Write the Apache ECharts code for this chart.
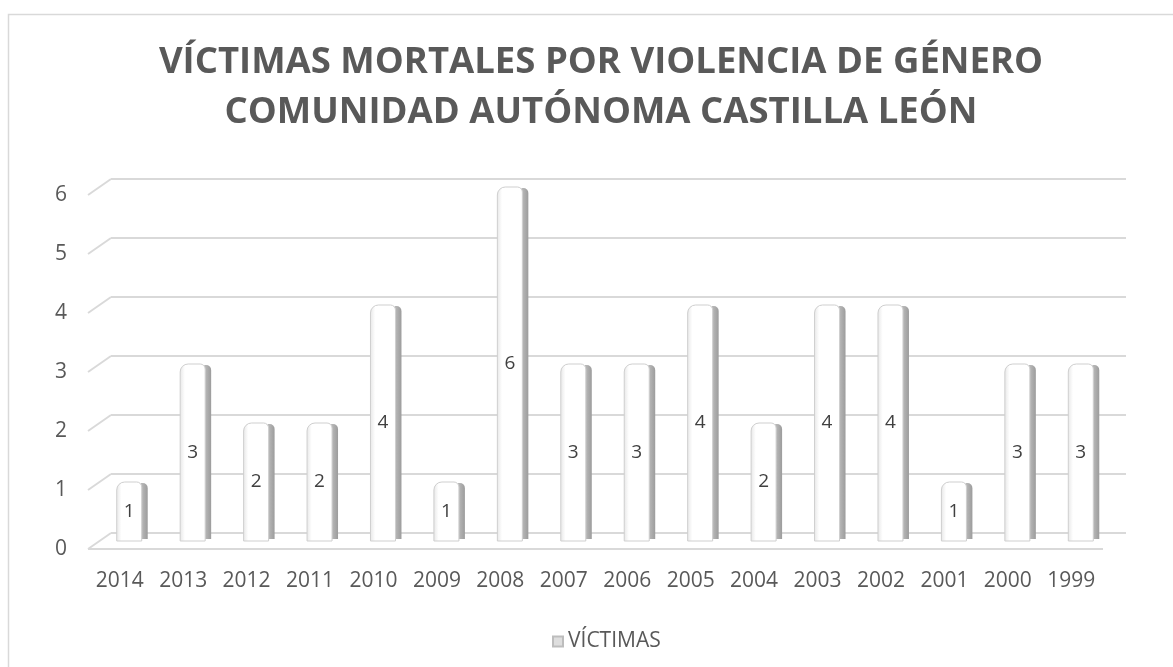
<!DOCTYPE html>
<html><head><meta charset="utf-8">
<script src="https://cdn.jsdelivr.net/npm/echarts@6/dist/echarts.min.js"></script>
<style>html,body{margin:0;padding:0;background:#fff}#c{width:1173px;height:667px}</style>
</head><body><div id="c"></div>
<script>
const categories = ['2014','2013','2012','2011','2010','2009','2008','2007','2006','2005','2004','2003','2002','2001','2000','1999'];
const values = [1,3,2,2,4,1,6,3,3,4,2,4,4,1,3,3];
const yTicks = [0,1,2,3,4,5,6];
const seriesName = 'VÍCTIMAS';
const titleLines = ['VÍCTIMAS MORTALES POR VIOLENCIA DE GÉNERO','COMUNIDAD AUTÓNOMA CASTILLA LEÓN'];

const DX = 23, DY = -16;
const FONT = 'Open Sans';
const chart = echarts.init(document.getElementById('c'), null, {renderer:'canvas'});

const option = {
  animation: false,
  backgroundColor: '#ffffff',
  graphic: [{
    type: 'rect', silent: true, z: -10,
    shape: {x: 8.5, y: 14.5, width: 1300, height: 800},
    style: {fill: 'none', stroke: '#d9d9d9', lineWidth: 1.5}
  }],
  title: {
    text: titleLines.join('\n'),
    left: 596, textAlign: 'center', top: 33,
    textStyle: {fontFamily: FONT, fontWeight: 'bold', fontSize: 36.5, lineHeight: 50, color: '#595959'}
  },
  legend: {
    data: [{name: seriesName, icon: 'rect'}],
    left: 547, top: 626,
    itemWidth: 10, itemHeight: 10,
    textStyle: {fontFamily: FONT, fontSize: 21, color: '#595959'}
  },
  grid: {left: 88, right: 70, top: 195, bottom: 118},
  xAxis: {
    type: 'category', data: categories,
    axisLine: {show: false}, axisTick: {show: false},
    axisLabel: {fontFamily: FONT, fontSize: 21, color: '#595959', margin: 22}
  },
  yAxis: {
    type: 'value', min: 0, max: 6, interval: 1,
    axisLine: {show: false}, axisTick: {show: false}, splitLine: {show: false},
    axisLabel: {fontFamily: FONT, fontSize: 21, color: '#595959', margin: 21}
  },
  series: [
    {
      type: 'custom', name: 'grid3d', silent: true, z: 1,
      data: yTicks.map(v => [0, v]),
      renderItem: function (params, api) {
        const cs = params.coordSys;
        const x0 = cs.x, x1 = cs.x + cs.width;
        const v = api.value(1);
        const y = api.coord([0, v])[1];
        const st = {stroke: '#d9d9d9', lineWidth: 2};
        const children = [
          {type: 'line', shape: {x1: x0 + DX, y1: y + DY, x2: x1 + DX, y2: y + DY}, style: st},
          {type: 'line', shape: {x1: x0, y1: y, x2: x0 + DX, y2: y + DY}, style: st}
        ];
        if (v === 0) {
          children.push({type: 'line', shape: {x1: x0, y1: y, x2: x1, y2: y}, style: st});
        }
        return {type: 'group', children: children};
      }
    },
    {
      type: 'custom', name: seriesName, z: 2,
      itemStyle: {color: '#dedede', borderColor: '#bdbdbd', borderWidth: 1},
      data: values.map((v, i) => [i, v]),
      renderItem: function (params, api) {
        const i = api.value(0), v = api.value(1);
        const pb = api.coord([i, 0]), pt = api.coord([i, v]);
        const cx = pb[0];
        const yb = pb[1] - 8, yt = pt[1] - 8;
        const fl = cx - 3, fw = 25, sw = 6;
        return {
          type: 'group',
          children: [
            {
              type: 'rect',
              shape: {x: fl + fw - 1, y: yt + 1, width: sw + 1, height: yb - yt - 3, r: [0, 5, 0, 0]},
              style: {
                fill: new echarts.graphic.LinearGradient(0, 0, 1, 0, [
                  {offset: 0, color: '#bdbdbd'}, {offset: 1, color: '#9c9c9c'}
                ])
              }
            },
            {
              type: 'rect',
              shape: {x: fl, y: yt, width: fw, height: yb - yt, r: [8, 5, 0, 0]},
              style: {
                fill: new echarts.graphic.LinearGradient(0, 0, 1, 0, [
                  {offset: 0, color: '#e6e6e6'}, {offset: 0.2, color: '#ffffff'}, {offset: 1, color: '#ffffff'}
                ]),
                stroke: '#cfcfcf', lineWidth: 1
              }
            },
            {
              type: 'text',
              style: {
                x: fl + fw / 2, y: (yt + yb) / 2,
                text: String(v), align: 'center', verticalAlign: 'middle',
                fontFamily: FONT, fontSize: 19, fill: '#404040'
              }
            }
          ]
        };
      }
    }
  ]
};
chart.setOption(option);
</script>
</body></html>
